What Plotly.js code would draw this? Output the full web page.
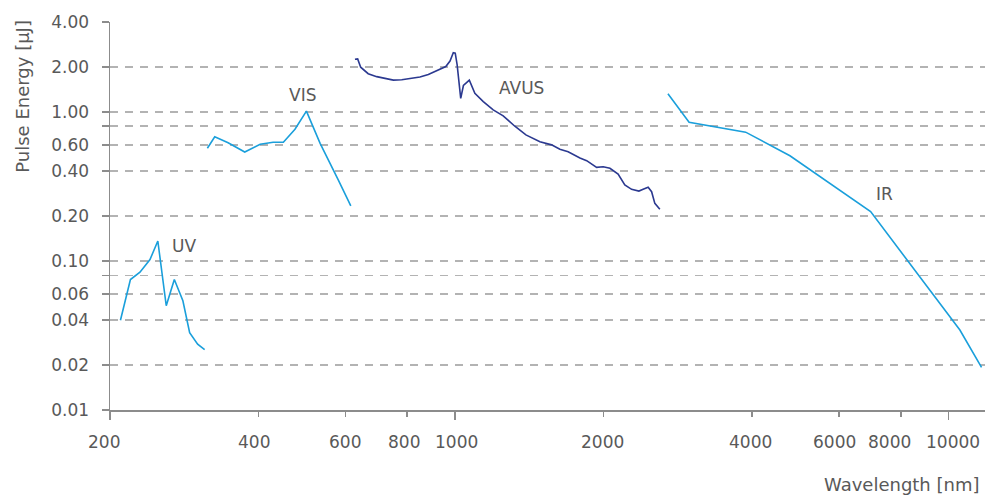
<!DOCTYPE html>
<html>
<head>
<meta charset="utf-8">
<script src="https://cdn.plot.ly/plotly-3.0.1.min.js"></script>
<style>html,body{margin:0;padding:0;background:#fff;}#chart{width:986px;height:498px;}</style>
</head>
<body>
<div id="chart"></div>
<script>
// ---- data (wavelength nm, pulse energy µJ) ----
const uvX = [210, 220, 230, 241, 250, 260, 270, 281, 290, 301, 311];
const uvY = [0.040, 0.075, 0.084, 0.102, 0.136, 0.050, 0.075, 0.054, 0.033, 0.0276, 0.0254];

const visX = [315, 326, 347, 375, 403, 428, 449, 474, 500, 533, 580, 615];
const visY = [0.569, 0.680, 0.620, 0.537, 0.605, 0.624, 0.624, 0.763, 1.01, 0.614, 0.349, 0.234];

const avusX = [627, 635, 644, 667, 694, 716, 750, 780, 811, 849, 883, 925, 958, 977, 992, 1001, 1010, 1027, 1040, 1069, 1097, 1141, 1195, 1252, 1322, 1392, 1486, 1569, 1631, 1695, 1791, 1848, 1936, 1996, 2060, 2140, 2208, 2279, 2358, 2405, 2462, 2502, 2540, 2600];
const avusY = [2.25, 2.26, 1.99, 1.80, 1.72, 1.68, 1.63, 1.64, 1.67, 1.71, 1.78, 1.91, 2.01, 2.19, 2.49, 2.47, 2.06, 1.23, 1.50, 1.63, 1.33, 1.17, 1.03, 0.94, 0.80, 0.70, 0.63, 0.60, 0.56, 0.54, 0.49, 0.47, 0.424, 0.428, 0.418, 0.382, 0.323, 0.302, 0.294, 0.302, 0.312, 0.291, 0.243, 0.222];

const irX = [2700, 2980, 3880, 4770, 6950, 10540, 11660];
const irY = [1.32, 0.85, 0.73, 0.507, 0.214, 0.0344, 0.0193];

const xTickVals = [200, 400, 600, 800, 1000, 2000, 4000, 6000, 8000, 10000];
const xTickText = ['200', '400', '600', '800', '1000', '2000', '4000', '6000', '8000', '10000'];
const xMajorVals = [200, 1000, 10000];
const yTickVals = [0.01, 0.02, 0.04, 0.06, 0.08, 0.1, 0.2, 0.4, 0.6, 0.8, 1, 2, 4];
const yTickText = ['0.01', '0.02', '0.04', '0.06', '', '0.10', '0.20', '0.40', '0.60', '', '1.00', '2.00', '4.00'];

const seriesNames = ['UV', 'VIS', 'AVUS', 'IR'];
const labelX = [282, 492, 1363, 7430];
const labelY = [0.126, 1.29, 1.44, 0.282];

const lightBlue = '#1a9fdb';
const navy = '#2b3990';
const textColor = '#595959';
const FONT = 'DejaVu Sans, sans-serif';

// small horizontal nudges (px) of the x tick labels, as placed in the original
const xLabelShift = [-6, -5, -1, -3, 1, -1, -1.5, -5, -11, 4];

function tr(x, y, c) {
  return {x: x, y: y, type: 'scatter', mode: 'lines', line: {color: c, width: 1.6}, hoverinfo: 'skip'};
}
const data = [
  tr(uvX, uvY, lightBlue),
  tr(visX, visY, lightBlue),
  tr(avusX, avusY, navy),
  tr(irX, irY, lightBlue)
];

const annotations = seriesNames.map((n, i) => ({
  text: n, x: Math.log10(labelX[i]), y: Math.log10(labelY[i]), xref: 'x', yref: 'y',
  showarrow: false, font: {family: FONT, size: 17, color: textColor}, xanchor: 'center', yanchor: 'middle'
}));
// x tick labels (drawn at the axis' own tick values)
xTickVals.forEach((v, i) => annotations.push({
  text: xTickText[i], x: Math.log10(v), xref: 'x', yref: 'paper', y: -0.0817, xshift: xLabelShift[i],
  showarrow: false, font: {family: FONT, size: 17, color: textColor}, xanchor: 'center', yanchor: 'middle'
}));
annotations.push({
  text: 'Pulse Energy [µJ]', xref: 'paper', yref: 'paper', x: -0.101, y: 0.809, textangle: -90,
  showarrow: false, font: {family: FONT, size: 18, color: textColor}, xanchor: 'center', yanchor: 'middle'
});
annotations.push({
  text: 'Wavelength [nm]', xref: 'paper', yref: 'paper', x: 0.9966, y: -0.193,
  showarrow: false, font: {family: FONT, size: 18, color: textColor}, xanchor: 'right', yanchor: 'middle'
});

const xr = [Math.log10(200), Math.log10(11850)];
const layout = {
  width: 986, height: 498,
  margin: {l: 110, r: 1, t: 22, b: 88},
  paper_bgcolor: '#fff', plot_bgcolor: '#fff',
  showlegend: false,
  font: {family: FONT, size: 17, color: textColor},
  xaxis: {
    type: 'log', range: xr, tickmode: 'array', tickvals: xTickVals, showticklabels: false,
    showgrid: false, zeroline: false, showline: true, linecolor: '#8c8c8c', linewidth: 1.5,
    ticks: 'outside', ticklen: 5, tickwidth: 1.5, tickcolor: '#8c8c8c'
  },
  xaxis2: {
    type: 'log', range: xr, overlaying: 'x', anchor: 'y', side: 'bottom',
    tickmode: 'array', tickvals: xMajorVals, showticklabels: false,
    showgrid: false, zeroline: false, showline: false,
    ticks: 'outside', ticklen: 9, tickwidth: 1.5, tickcolor: '#8c8c8c'
  },
  yaxis: {
    type: 'log', range: [Math.log10(0.01), Math.log10(4)], tickmode: 'array', tickvals: yTickVals, ticktext: yTickText,
    showgrid: true, gridcolor: '#b3b3b3', gridwidth: 1.5, griddash: '8px,7px',
    zeroline: false, showline: true, linecolor: '#8c8c8c', linewidth: 1.5,
    ticks: 'outside', ticklen: 7, tickwidth: 1.5, tickcolor: '#8c8c8c',
    tickfont: {family: FONT, size: 17, color: textColor}, ticklabelstandoff: 9
  },
  annotations: annotations
};
// invisible helper trace so the overlay axis is drawn
data.push({x: [1000], y: [1], xaxis: 'x2', type: 'scatter', mode: 'markers', marker: {opacity: 0}, hoverinfo: 'skip'});

Plotly.newPlot('chart', data, layout, {displayModeBar: false, staticPlot: true});
</script>
</body>
</html>
